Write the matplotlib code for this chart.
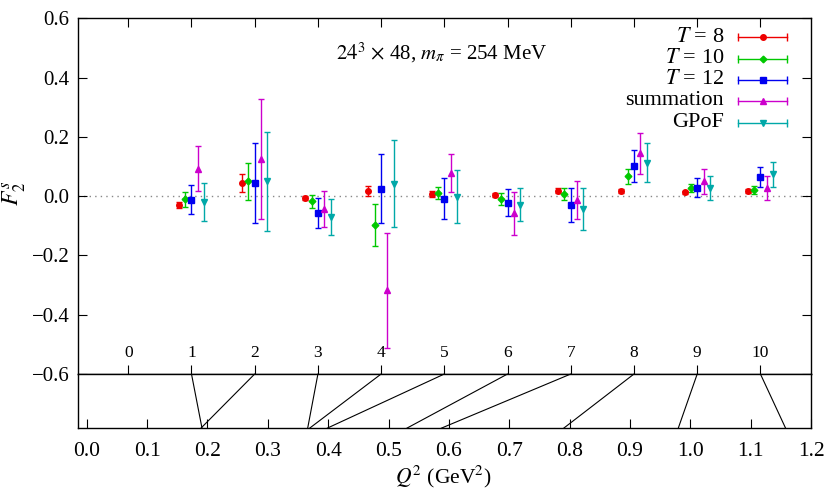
import matplotlib
matplotlib.use('Agg')
import matplotlib.pyplot as plt
import matplotlib.transforms as mtransforms
from matplotlib.patches import ConnectionPatch

plt.rcParams['font.family'] = ['Liberation Serif', 'DejaVu Serif']
plt.rcParams['mathtext.fontset'] = 'stix'

# index of each momentum transfer and its Q^2 value (GeV^2)
idx = [1, 2, 3, 4, 5, 6, 7, 8, 9, 10]
q2 = [0.191, 0.189, 0.366, 0.369, 0.398, 0.530, 0.587, 0.790, 0.980, 1.158]

t8 = [-0.030, 0.045, -0.006, 0.018, 0.009, 0.004, 0.019, 0.018, 0.013, 0.018]
t8_err = [0.010, 0.029, 0.008, 0.018, 0.010, 0.008, 0.008, 0.007, 0.006, 0.006]
t10 = [-0.010, 0.051, -0.017, -0.096, 0.012, -0.010, 0.007, 0.067, 0.027, 0.022]
t10_err = [0.025, 0.062, 0.021, 0.071, 0.020, 0.020, 0.021, 0.024, 0.013, 0.014]
t12 = [-0.012, 0.045, -0.056, 0.026, -0.008, -0.022, -0.029, 0.103, 0.028, 0.064]
t12_err = [0.049, 0.135, 0.050, 0.117, 0.069, 0.046, 0.057, 0.054, 0.032, 0.034]
summ = [0.093, 0.126, -0.044, -0.318, 0.077, -0.058, -0.012, 0.145, 0.050, 0.029]
summ_err = [0.075, 0.202, 0.061, 0.193, 0.064, 0.072, 0.064, 0.070, 0.042, 0.040]
gpof = [-0.019, 0.050, -0.070, 0.043, -0.001, -0.028, -0.044, 0.113, 0.027, 0.074]
gpof_err = [0.063, 0.168, 0.060, 0.148, 0.088, 0.057, 0.071, 0.066, 0.040, 0.042]

labels = [r'$T$ = 8', r'$T$ = 10', r'$T$ = 12', 'summation', 'GPoF']

series = [
    (t8, t8_err, '#ee0000', 'o', 4.0, -0.2),
    (t10, t10_err, '#00c800', 'D', 3.4, -0.1),
    (t12, t12_err, '#0000f0', 's', 3.8, 0.0),
    (summ, summ_err, '#cc00cc', '^', 4.8, 0.1),
    (gpof, gpof_err, '#00a8a8', 'v', 4.8, 0.2),
]

W, H = 830, 498
fig = plt.figure(figsize=(W / 100, H / 100), dpi=100)

x0, x1 = 77.7, 811
ytop, ymid, ybot = 18.5, 374, 428.3
ax1 = fig.add_axes([x0 / W, 1 - ymid / H, (x1 - x0) / W, (ymid - ytop) / H])
ax2 = fig.add_axes([x0 / W, 1 - ybot / H, (x1 - x0) / W, (ybot - ymid) / H])

ax1.axhline(0, color='#888888', ls=(0, (1, 3)), lw=1, zorder=1)

for (vals, errs, col, mk, ms, off), lab in zip(series, labels):
    xs = [i + off for i in idx]
    ax1.errorbar(xs, vals, yerr=errs, fmt=mk, color=col, ms=ms, elinewidth=1,
                 capsize=2.5, capthick=1, zorder=3)

ax1.set_xlim(-0.8, 10.8)
ax1.set_ylim(-0.6, 0.6)
ax1.set_yticks([-0.6, -0.4, -0.2, 0.0, 0.2, 0.4, 0.6])
ax1.set_yticklabels(['\u22120.6', '\u22120.4', '\u22120.2', '0.0', '0.2', '0.4', '0.6'])
ax1.set_xticks(range(0, 11))
ax1.tick_params(axis='both', direction='in', length=6.5, width=0.8, labelsize=15,
                top=True, right=True, labelbottom=False, pad=6)
for sp in ax1.spines.values():
    sp.set_linewidth(1)

# index labels sit inside the panel above the -0.6 line
trans = mtransforms.blended_transform_factory(ax1.transData, ax1.transAxes)
for i in range(0, 11):
    ax1.text(i, (ymid - 353) / (ymid - ytop), str(i), transform=trans,
             ha='center', va='center', fontsize=12.5)

fig.text(14 / W, 1 - 193 / H, r'$F_2^s$', rotation=90, ha='center', va='center', fontsize=17)
fig.text(441.7 / W, 1 - 52.7 / H, r'$24^3$ $\times$ 48, $m_\pi$ = 254 MeV',
         ha='center', va='center', fontsize=15)

# legend drawn gnuplot-style: right aligned text, horizontal error bar sample
leg_y = [37.3, 58.7, 80.0, 100.7, 122.7]
for (vals, errs, col, mk, ms, off), lab, yy in zip(series, labels, leg_y):
    fy = 1 - yy / H
    fig.text(724 / W, fy, lab, ha='right', va='center', fontsize=16)
    ax1.plot([738 / W, 787 / W], [fy, fy], color=col, lw=1,
             transform=fig.transFigure, clip_on=False)
    ax1.plot([738 / W, 787 / W], [fy, fy], ls='none', marker='|', ms=6, mew=1,
             color=col, transform=fig.transFigure, clip_on=False)
    ax1.plot([762.5 / W], [fy], ls='none', marker=mk, ms=ms, color=col,
             transform=fig.transFigure, clip_on=False)

ax2.set_xlim(-0.015, 1.2)
ax2.set_ylim(0, 1)
ax2.set_yticks([])
ax2.set_xticks([0.1 * k for k in range(13)])
ax2.set_xticklabels(['%.1f' % (0.1 * k) for k in range(13)])
ax2.tick_params(axis='x', direction='in', length=6.5, width=0.8, labelsize=15.5, pad=10)
for sp in ax2.spines.values():
    sp.set_linewidth(1)

fig.text(443 / W, 1 - 477 / H, r'$Q^2$ (GeV$^2$)', ha='center', va='center', fontsize=15.5)

# connect each index to its Q^2 value
for i, q in zip(idx, q2):
    con = ConnectionPatch(xyA=(i, -0.6), coordsA=ax1.transData,
                          xyB=(q, 0), coordsB=ax2.transData,
                          color='black', lw=0.8)
    fig.add_artist(con)

fig.savefig('out.png', dpi=100)
plt.close()
